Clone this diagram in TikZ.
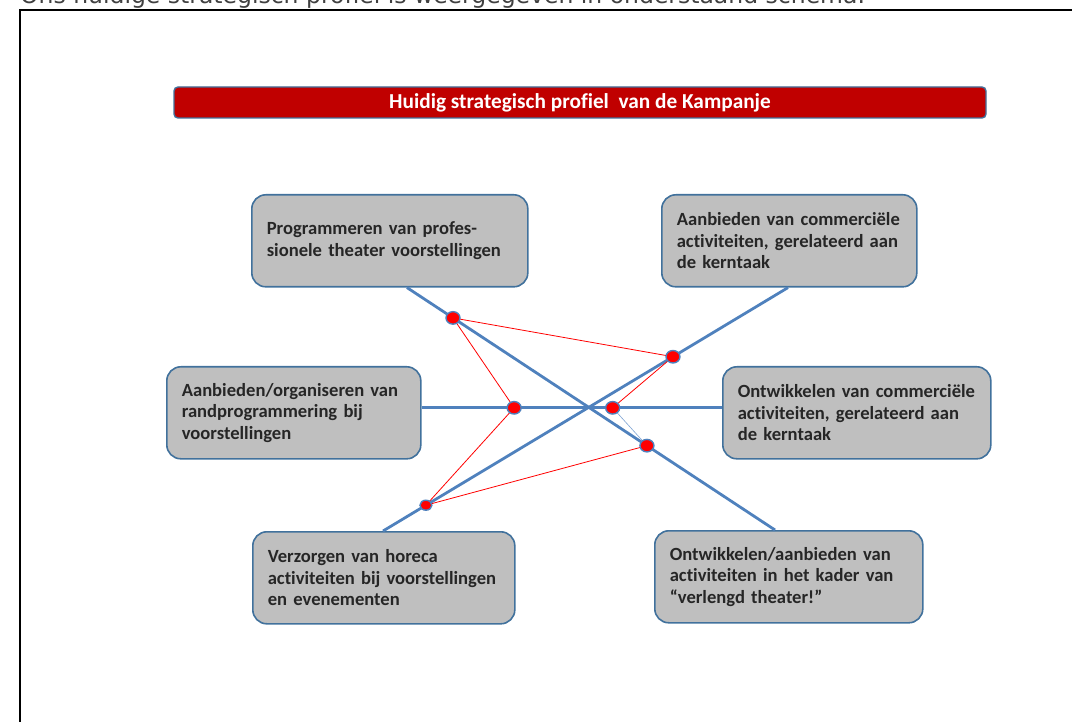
\documentclass[tikz,border=0pt]{standalone}
\usepackage{fontspec}
\setmainfont[Ligatures=NoCommon]{Carlito}
\newfontfamily\topfont{DejaVu Sans}
\usetikzlibrary{calc,shapes.geometric}
\definecolor{boxgray}{HTML}{BFBFBF}
\definecolor{boxborder}{HTML}{41719C}
\definecolor{linkblue}{HTML}{4F81BD}
\definecolor{thinblue}{HTML}{7FA3D3}
\definecolor{titlered}{HTML}{C00000}
\definecolor{txtdark}{HTML}{262626}
\definecolor{toptxt}{HTML}{404040}
\begin{document}
\begin{tikzpicture}[x=1pt,y=-1pt,
  profbox/.style={draw=boxborder, line width=1.6pt, fill=boxgray, rounded corners=14pt,
    anchor=north west, inner xsep=15pt, inner ysep=0pt, align=left, text=txtdark,
    font=\fontsize{18.6}{21.5}\selectfont\bfseries},
  titlebar/.style={draw=boxborder, line width=1.4pt, fill=titlered, rounded corners=4pt,
    minimum width=812pt, minimum height=31pt, text=white, inner sep=0pt,
    font=\fontsize{21.3}{22}\selectfont\bfseries},
  axis/.style={draw=linkblue, line width=2.8pt},
  redlink/.style={draw=red, line width=0.8pt},
  bluelink/.style={draw=thinblue, line width=0.6pt},
  dot/.style={ellipse, draw=linkblue, line width=1.4pt, fill=red, minimum width=14pt, minimum height=12.5pt, inner sep=0pt},
  smalldot/.style={dot, minimum width=12pt, minimum height=10pt}
]
\useasboundingbox (0,0) rectangle (1072,722);
\clip (0,0) rectangle (1072,722);

% cut-off introductory sentence and frame
\node[anchor=base west, inner sep=0pt, text=toptxt, font=\topfont\fontsize{23.5}{26}\selectfont] (intro) at (20,4) {Ons huidige strategisch profiel is weergegeven in onderstaand schema.};
\draw[line width=2pt] (20,730) -- (20,10) -- (1080,10);

% title
\node[titlebar] (title) at (580,102.5) {Huidig strategisch profiel\ \ van de Kampanje};

% boxes
\node[profbox, minimum width=276pt, minimum height=92pt, text width=246pt] (b1) at (251,194)
  {Programmeren van profes-\\sionele theater voorstellingen};
\node[profbox, minimum width=255pt, minimum height=92pt, text width=225pt] (b2) at (661,194)
  {Aanbieden van commerciële\\activiteiten, gerelateerd aan\\de kerntaak};
\node[profbox, minimum width=254pt, minimum height=92pt, text width=224pt] (b3) at (166,366)
  {Aanbieden/organiseren van\\randprogrammering bij\\voorstellingen};
\node[profbox, minimum width=268pt, minimum height=92pt, text width=238pt] (b4) at (722,366)
  {Ontwikkelen van commerciële\\activiteiten, gerelateerd aan\\de kerntaak};
\node[profbox, minimum width=262pt, minimum height=92pt, text width=232pt] (b5) at (252,531)
  {Verzorgen van horeca\\activiteiten bij voorstellingen\\en evenementen};
\node[profbox, minimum width=268pt, minimum height=92pt, text width=238pt] (b6) at (654,530)
  {Ontwikkelen/aanbieden van\\activiteiten in het kader van\\“verlengd theater!”};

% axis end points
\coordinate (a1) at ($(b1.south west)+(156,0)$);
\coordinate (a2) at ($(b6.north west)+(121,0)$);
\coordinate (c1) at ($(b2.south west)+(127,0)$);
\coordinate (c2) at ($(b5.north west)+(131,0)$);
\coordinate (h1) at ($(b3.east)+(0,-5)$);
\coordinate (h2) at ($(b4.west)+(0,-5)$);

\draw[axis] (a1) -- (a2);
\draw[axis] (c1) -- (c2);
\draw[axis] (h1) -- (h2);

% dot positions on the axes
\coordinate (q1) at ($(a1)!0.125!(a2)$);
\coordinate (q5) at ($(a1)!0.652!(a2)$);
\coordinate (q2) at ($(c1)!0.284!(c2)$);
\coordinate (q6) at ($(c1)!0.894!(c2)$);
\coordinate (q3) at ($(h1)!0.308!(h2)$);
\coordinate (q4) at ($(h1)!0.636!(h2)$);

% links between dots
\draw[redlink] (q1) -- (q2);
\draw[redlink] (q1) -- (q3);
\draw[redlink] (q3) -- (q6);
\draw[redlink] (q6) -- (q5);
\draw[redlink] (q2) -- (q4);
\draw[bluelink] (q4) -- (q5);

% dots
\node[dot] (p1) at (q1) {};
\node[dot] (p2) at (q2) {};
\node[dot] (p3) at (q3) {};
\node[dot] (p4) at (q4) {};
\node[dot] (p5) at (q5) {};
\node[smalldot] (p6) at (q6) {};
\end{tikzpicture}
\end{document}
